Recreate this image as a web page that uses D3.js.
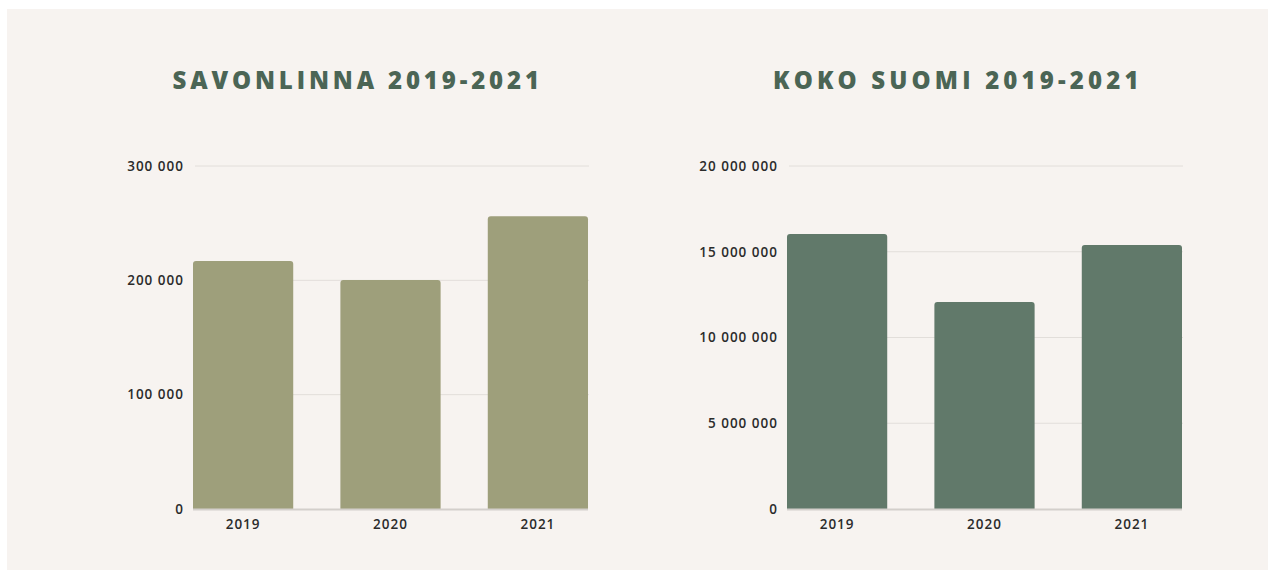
<!DOCTYPE html>
<html>
<head>
<meta charset="utf-8">
<script src="https://cdn.jsdelivr.net/npm/d3@7"></script>
<style>
  body { margin: 0; background: #fff; }
  svg { display: block; }
  .tick text { font-family: "Open Sans", sans-serif; font-size: 13.5px; font-weight: 600; fill: #2b2b2b; letter-spacing: 1px; }
  .title { font-family: "Open Sans", sans-serif; font-weight: 800; fill: #4b6555; }
</style>
</head>
<body>
<svg id="chart" width="1275" height="578"></svg>
<script>
// data
var years = ["2019", "2020", "2021"];
var savonlinna = [217000, 200300, 256000];
var kokoSuomi = [16030000, 12070000, 15390000];
var savTicks = [0, 100000, 200000, 300000];
var suomiTicks = [0, 5000000, 10000000, 15000000, 20000000];

const svg = d3.select("#chart");

svg.append("rect")
    .attr("x", 7).attr("y", 9)
    .attr("width", 1261).attr("height", 561)
    .attr("fill", "#f7f3f0");

var fmt = d => d3.format(",")(d).replace(/,/g, " ");

function drawPanel(opts) {
    var g = svg.append("g");

    var y = d3.scaleLinear().domain([0, opts.max]).range([509, 166]);
    var x = d3.scaleBand().domain(years).range([opts.x0, opts.x1])
        .paddingInner(0.32).paddingOuter(0);

    // title
    g.append("text")
        .attr("class", "title")
        .attr("x", opts.tx).attr("y", 89)
        .attr("text-anchor", "middle")
        .attr("font-size", 24)
        .attr("letter-spacing", 2.5)
        .attr("textLength", opts.tw)
        .attr("lengthAdjust", "spacing")
        .text(opts.title);

    // grid
    g.selectAll(".grid").data(opts.ticks.slice(1)).enter().append("line")
        .attr("x1", opts.x0 + 2).attr("x2", opts.x1 + 1)
        .attr("y1", d => y(d)).attr("y2", d => y(d))
        .attr("stroke", "#e2deda").attr("stroke-width", 1);

    // y axis labels
    var yAxis = g.append("g")
        .attr("transform", "translate(" + (opts.x0 - 9) + ",0)")
        .call(d3.axisLeft(y).tickValues(opts.ticks).tickFormat(fmt).tickSize(0).tickPadding(0));
    yAxis.select(".domain").remove();
    yAxis.selectAll(".tick text").attr("dy", "0.32em");

    // bars with rounded tops
    g.selectAll(".bar").data(opts.values).enter().append("path")
        .attr("fill", opts.color)
        .attr("d", (d, i) => {
            var x0 = x(years[i]), w = x.bandwidth(), top = y(d), bot = y(0), r = 3;
            return "M" + x0 + "," + bot + "V" + (top + r) +
                "Q" + x0 + "," + top + " " + (x0 + r) + "," + top +
                "H" + (x0 + w - r) +
                "Q" + (x0 + w) + "," + top + " " + (x0 + w) + "," + (top + r) +
                "V" + bot + "Z";
        });

    // baseline
    g.append("line")
        .attr("x1", opts.x0).attr("x2", opts.x1)
        .attr("y1", 509.5).attr("y2", 509.5)
        .attr("stroke", "#d3cfcb").attr("stroke-width", 2);

    // x axis labels
    var xAxis = g.append("g")
        .attr("transform", "translate(0,518)")
        .call(d3.axisBottom(x).tickSize(0).tickPadding(0));
    xAxis.select(".domain").remove();
    xAxis.selectAll(".tick text").attr("dy", "0.85em");
}

drawPanel({
    title: "SAVONLINNA 2019-2021", tx: 357, tw: 369,
    x0: 193, x1: 588, max: 300000, ticks: savTicks,
    values: savonlinna, color: "#9e9f7b"
});

drawPanel({
    title: "KOKO SUOMI 2019-2021", tx: 957, tw: 368,
    x0: 787, x1: 1182, max: 20000000, ticks: suomiTicks,
    values: kokoSuomi, color: "#61796a"
});
</script>
</body>
</html>
